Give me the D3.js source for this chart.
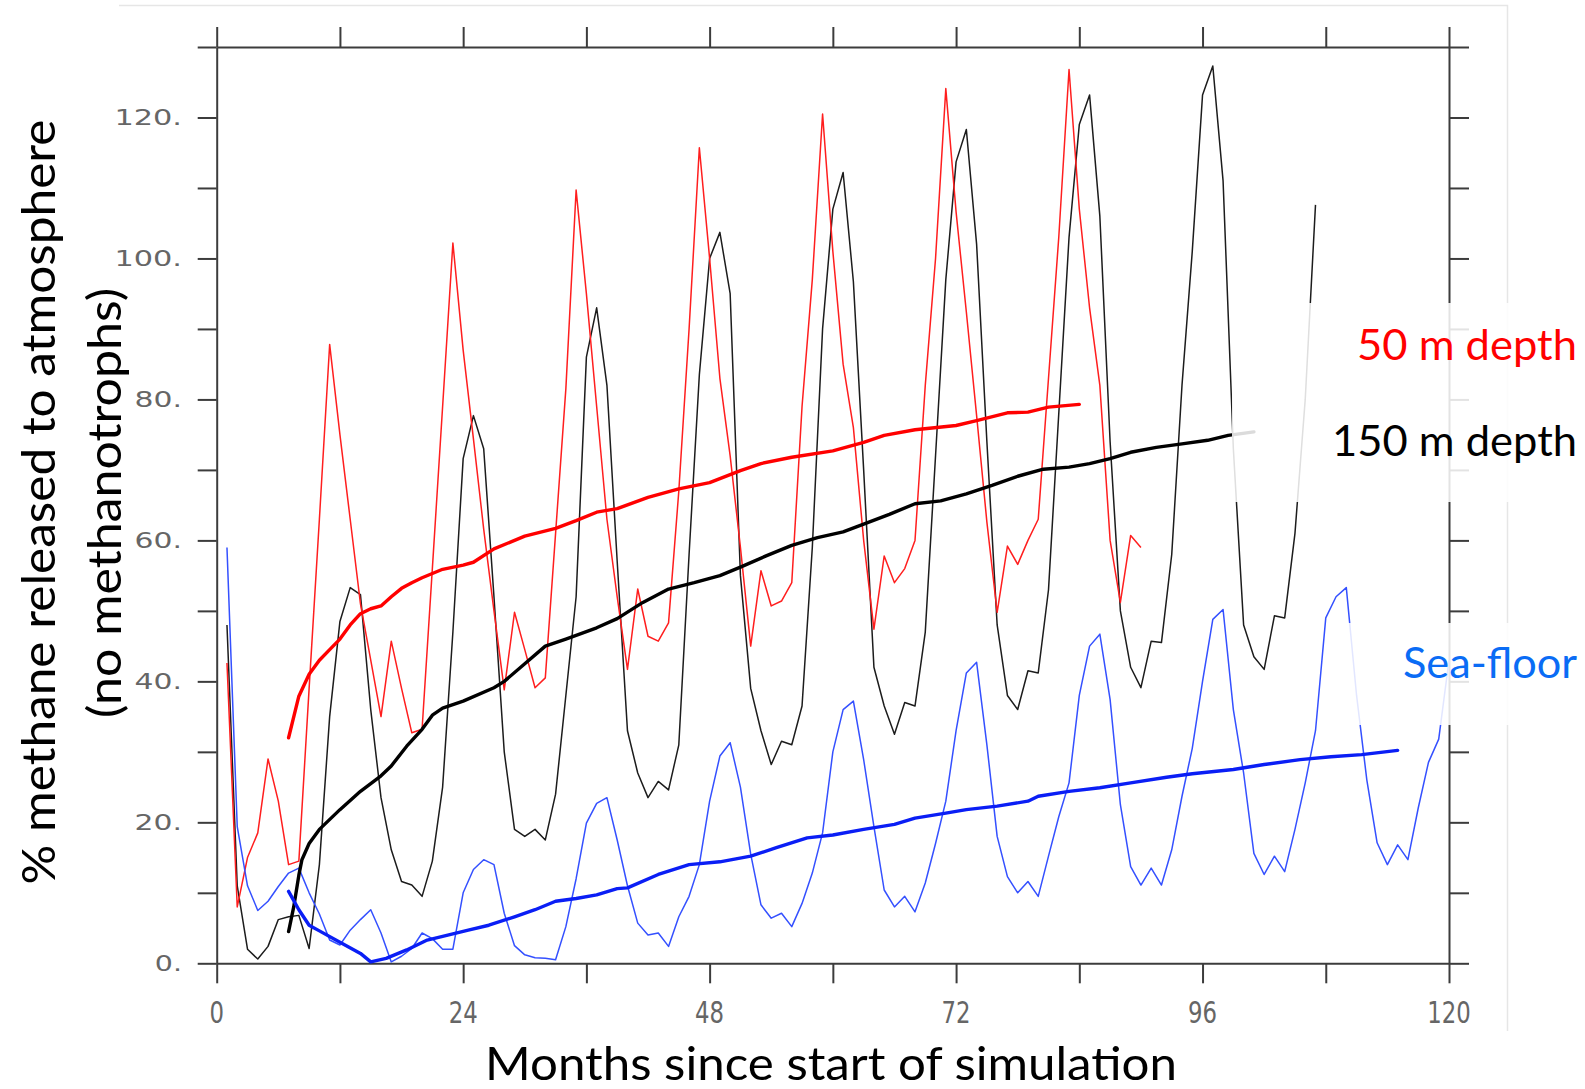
<!DOCTYPE html>
<html><head><meta charset="utf-8">
<script src="https://cdn.jsdelivr.net/npm/d3@7"></script>
<style>body{margin:0;background:#fff;} svg{display:block}</style>
</head><body>
<svg id="chart" width="1585" height="1089"></svg>
<script>
// ---------------- DATA ----------------
// monthly values, first value is month 1
const depth50 = [42.6,8,15,18.5,29,23,14,14.5,39,63,87.8,75,63,51,43,35,45.7,39,32.7,33.2,
  56,79,102.2,87,74.4,61.6,50,38.8,49.8,44.5,39.1,40.5,61,81.5,109.7,95,79,63,52,41.7,
  53.1,46.4,45.7,48.3,67,90,115.7,100,83,72,59,45,55.7,50.7,51.4,54,79,97,120.5,101,
  85,76,60,47.4,57.8,54,56,60,82,100,124.1,106.6,92.4,77.7,62.6,49.8,59.2,56.6,60,63,
  83,103,126.8,107,93,82,60,51.2,60.7,59];
const depth150 = [48,11,2,0.6,2.4,6.2,6.6,6.8,2.1,14,35,48.5,53.3,52.3,36,23.5,16.1,11.6,11.1,9.5,
  14.5,25,47,71.6,77.7,73,52,30,19,18,19,17.5,24,38,52,86,93,82,57,33,
  27,23.5,25.8,24.6,31,58,83.5,100,103.7,95,55,39,33,28.2,31.5,31,36.5,59,90,107,
  112.2,96.7,70,42,36.5,32.5,37,36.5,47,72,97,113.7,118.3,102,74,48,38,36,41.5,41.2,
  53,78,103,119,123.2,106,74,50,42,39.1,45.7,45.5,58,82,101,123.2,127.3,111,73,48,
  43.5,41.7,49.3,49,61,80,107.6];
const seaFloor = [59,19.4,11,7.5,8.8,10.9,12.8,13.5,10,7,3.3,2.6,4.7,6.2,7.6,4.3,0.2,1,2.1,4.3,
  3.5,2,2,10,13.3,14.7,14,7.1,2.5,1.2,0.8,0.7,0.5,5.2,12,19.9,22.7,23.5,17.5,11,
  5.7,4,4.3,2.4,6.6,9.5,14,23,29.4,31.3,25,15.5,8.3,6.4,7.1,5.2,8.5,12.8,18.5,30,
  36,37.2,28.9,19.4,10.4,8,9.5,7.3,11.4,17,23,33,41.2,42.7,31,18,12.3,10,11.6,9.5,
  15.2,20.8,25.6,38,45,46.7,37.4,22.5,13.7,11.1,13.5,11.1,16.1,23.7,30.5,40,48.8,50.2,36,27,
  15.6,12.6,15.2,13,19,25.6,33,49,52,53.3,38,26,17.1,14,16.8,14.7,22,28.5,31.8,43];

// running means: [month, value]
const depth50Mean = [[7,32],[8,37.9],[9,41],[10,43],[11,44.5],[12,46],[13,48],[14,49.6],[15,50.3],[16,50.7],
  [17,52],[18,53.2],[19,54],[20,54.7],[22,55.9],[24,56.5],[25,56.9],[27,58.8],[30,60.6],[33,61.7],
  [35,62.8],[37,64],[39,64.5],[42,66.1],[45,67.3],[48,68.2],[51,69.9],[53,70.9],[56,71.8],[60,72.7],
  [63,73.9],[65,74.9],[68,75.7],[72,76.3],[74,77],[77,78.1],[79,78.2],[81,78.9],[84,79.3]];
const depth150Mean = [[7,4.5],[7.5,8],[8,12.5],[8.3,14.7],[9,17],[10,19],[12,21.8],[14,24.4],[16,26.6],[17,28],
  [18.5,30.8],[20,33.2],[21,35.2],[22,36.2],[24,37.2],[27,39.1],[28,40],[30,42.5],[32,45],[34,46],
  [37,47.6],[39,48.9],[41.5,51.2],[44,53.1],[46.5,54],[49,55],[51,56.2],[53.5,57.8],[56,59.3],[58.5,60.4],
  [61,61.2],[63,62.3],[65.5,63.7],[68,65.2],[70.5,65.6],[73,66.6],[75.5,67.8],[78,69.1],[80.5,70.1],[83,70.4],
  [85,70.9],[87,71.6],[89,72.5],[91.5,73.2],[94,73.7],[96.5,74.2],[98.5,74.9],[101,75.4]];
const seaFloorMean = [[7,10.2],[8,7.6],[9,5.4],[10,4.6],[12,3],[14,1.4],[15,0.2],[16.5,0.7],[18.5,1.9],[20.5,3.3],
  [22.5,4],[24.5,4.7],[26.5,5.4],[29,6.6],[31,7.6],[33,8.8],[35,9.2],[37,9.7],[39,10.6],[40,10.7],
  [43,12.6],[46,14],[49,14.4],[52,15.2],[54.5,16.4],[57.5,17.8],[60,18.2],[63,19],[66,19.7],[68,20.6],
  [71,21.3],[73,21.8],[76,22.3],[79,23],[80,23.7],[83,24.4],[86,24.9],[89,25.6],[92.5,26.4],[95,26.9],
  [99,27.5],[102,28.2],[105.5,28.9],[108.5,29.3],[111.5,29.6],[115,30.2]];

const xTickValues = [0,12,24,36,48,60,72,84,96,108,120];
const xLabelValues = [0,24,48,72,96,120];
const xLabels = ['0','24','48','72','96','120'];
const yTickValues = [0,10,20,30,40,50,60,70,80,90,100,110,120,130];
const yLabelValues = [0,20,40,60,80,100,120];
const yLabels = ['0.','20.','40.','60.','80.','100.','120.'];
const legendNames = ['50 m depth','150 m depth','Sea-floor'];

// ---------------- CHART ----------------
const svg = d3.select('#chart');
const x = d3.scaleLinear().domain([0,120]).range([216.7,1449]);
const y = d3.scaleLinear().domain([0,130]).range([963.3,47]);

// faint outer border of the embedded picture
svg.append('path').attr('d','M119,5.5H1507.5V1031').attr('fill','none')
  .attr('stroke','#e6e6e6').attr('stroke-width',1.5);

const axisColor = '#3c3c3c';
function styleAxis(g){
  g.selectAll('path,line').attr('stroke',axisColor).attr('stroke-width',2);
  g.selectAll('text').remove();
}
svg.append('g').attr('transform',`translate(0,${y(0)})`)
  .call(d3.axisBottom(x).tickValues(xTickValues).tickSize(20).tickSizeOuter(0)).call(styleAxis);
svg.append('g').attr('transform',`translate(0,${y(130)})`)
  .call(d3.axisTop(x).tickValues(xTickValues).tickSize(20).tickSizeOuter(0)).call(styleAxis);
svg.append('g').attr('transform',`translate(${x(0)},0)`)
  .call(d3.axisLeft(y).tickValues(yTickValues).tickSize(19).tickSizeOuter(0)).call(styleAxis);
svg.append('g').attr('transform',`translate(${x(120)},0)`)
  .call(d3.axisRight(y).tickValues(yTickValues).tickSize(20).tickSizeOuter(0)).call(styleAxis);

// tick labels
svg.append('g').selectAll('text').data(yLabelValues).join('text')
  .attr('x',182).attr('y',d=>y(d)+8)
  .attr('text-anchor','end')
  .attr('font-family','DejaVu Sans, sans-serif').attr('font-size',22).attr('fill','#666')
  .attr('textLength',(d,i)=> (yLabels[i].length-1)*20.2+7)
  .attr('lengthAdjust','spacingAndGlyphs')
  .text((d,i)=>yLabels[i]);
svg.append('g').selectAll('text').data(xLabelValues).join('text')
  .attr('x',d=>x(d)).attr('y',1023)
  .attr('text-anchor','middle')
  .attr('font-family','DejaVu Sans, sans-serif').attr('font-size',30).attr('fill','#666')
  .attr('textLength',(d,i)=> xLabels[i].length*14.5)
  .attr('lengthAdjust','spacingAndGlyphs')
  .text((d,i)=>xLabels[i]);

// lines
const monthly = d3.line().x((d,i)=>x(i+1)).y(d=>y(d));
const pairs = d3.line().x(d=>x(d[0])).y(d=>y(d[1]));
const thin = [[depth150,'#1c1c1c'],[depth50,'#ff1e1e'],[seaFloor,'#3450ff']];
thin.forEach(([data,col])=>{
  svg.append('path').datum(data).attr('d',monthly).attr('fill','none')
    .attr('stroke',col).attr('stroke-width',1.5).attr('stroke-linejoin','round');
});
const thick = [[depth50Mean,'#ff0000'],[depth150Mean,'#000000'],[seaFloorMean,'#0a1ef5']];
thick.forEach(([data,col])=>{
  svg.append('path').datum(data).attr('d',pairs).attr('fill','none')
    .attr('stroke',col).attr('stroke-width',3.4).attr('stroke-linejoin','round').attr('stroke-linecap','round');
});

// legend boxes (semi-opaque white)
svg.append('rect').attr('x',1232).attr('y',303).attr('width',353).attr('height',199)
  .attr('fill','#fff').attr('fill-opacity',0.86);
svg.append('rect').attr('x',1346).attr('y',623).attr('width',239).attr('height',102)
  .attr('fill','#fff').attr('fill-opacity',0.86);

const legendColors = ['#ff0000','#000000','#0a6cf5'];
const legendY = [360,456,678];
const legendLen = [220,245,174];
svg.append('g').selectAll('text').data(legendNames).join('text')
  .attr('x',1577).attr('y',(d,i)=>legendY[i]).attr('text-anchor','end')
  .attr('font-family','Lato, "Open Sans", sans-serif').attr('font-size',42)
  .attr('fill',(d,i)=>legendColors[i])
  .attr('textLength',(d,i)=>legendLen[i]).attr('lengthAdjust','spacingAndGlyphs')
  .text(d=>d);

// axis titles
svg.append('text').attr('x',831).attr('y',1080).attr('text-anchor','middle')
  .attr('font-family','Lato, "Open Sans", sans-serif').attr('font-size',47).attr('fill','#000')
  .attr('textLength',692).attr('lengthAdjust','spacingAndGlyphs')
  .text('Months since start of simulation');
svg.append('text').attr('transform','translate(55,502) rotate(-90)').attr('text-anchor','middle')
  .attr('font-family','Lato, "Open Sans", sans-serif').attr('font-size',47).attr('fill','#000')
  .attr('textLength',765).attr('lengthAdjust','spacingAndGlyphs')
  .text('% methane released to atmosphere');
svg.append('text').attr('transform','translate(121,503) rotate(-90)').attr('text-anchor','middle')
  .attr('font-family','Lato, "Open Sans", sans-serif').attr('font-size',47).attr('fill','#000')
  .attr('textLength',430).attr('lengthAdjust','spacingAndGlyphs')
  .text('(no methanotrophs)');
</script>
</body></html>
